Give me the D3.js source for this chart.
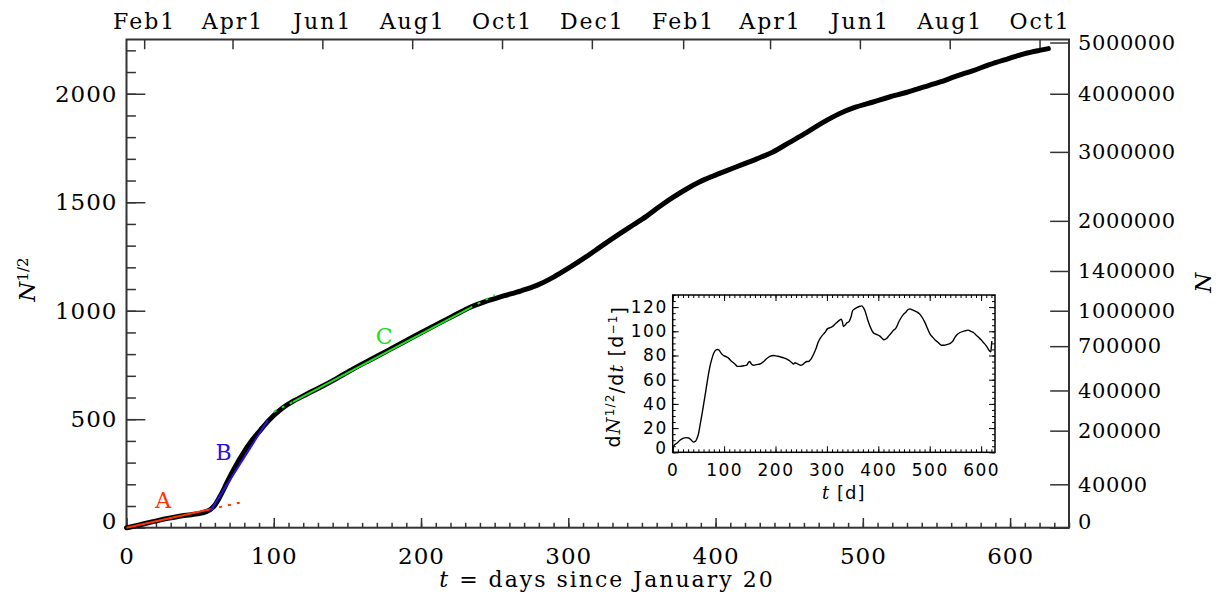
<!DOCTYPE html>
<html>
<head>
<meta charset="utf-8">
<title>N^1/2 versus time</title>
<script src="https://d3js.org/d3.v7.min.js"></script>
<style>
  body { margin: 0; background: #fff; }
  svg { display: block; background: #fff; }
  text { font-family: "DejaVu Serif", serif; fill: #000; }
  .axis path { display: none; }
  .axis line { stroke: #333; stroke-width: 1.5px; }
  .inset text { font-family: "DejaVu Sans", sans-serif; }
  .inset .axis line { stroke: #000; stroke-width: 1px; }
</style>
</head>
<body>
<svg width="1222" height="604"></svg>
<script>
// main curve: sqrt of cumulative cases
const days = [0, 2, 10, 18, 28, 36, 44, 50, 54, 57, 60, 64, 68, 72, 75, 79, 82, 86, 91, 95,
  100, 106, 113, 122, 131, 142, 154, 165, 177, 188, 199, 213, 223, 233, 245, 256, 268, 279,
  290, 301, 312, 323, 335, 344, 353, 362, 371, 380, 389, 398, 408, 418, 428, 439, 450, 462,
  473, 484, 495, 507, 518, 530, 541, 552, 563, 575, 586, 598, 610, 620, 626];
const sqrtN = [0, 2, 15, 28, 43, 53, 60, 66, 74, 84, 104, 150, 205, 258, 295, 340, 372, 410, 450, 482,
  517, 552, 582, 614, 645, 685, 732, 772, 815, 855, 895, 945, 980, 1015, 1045, 1068, 1092, 1118,
  1155, 1200, 1248, 1300, 1355, 1395, 1435, 1480, 1522, 1560, 1593, 1620, 1647, 1673, 1700, 1732, 1775, 1822,
  1868, 1908, 1938, 1962, 1985, 2007, 2030, 2053, 2080, 2107, 2134, 2160, 2185, 2200, 2208];

// inset: growth rate of sqrt(N)
const rateDays = [0, 3, 8, 14, 20, 26, 31, 36, 40, 44, 47, 50, 53, 58, 63, 69, 73, 76, 80, 84, 87, 90, 94, 99,
  104, 108, 115, 121, 126, 131, 138, 144, 147, 150, 153, 157, 163, 170, 177, 183, 190, 196, 203, 209,
  216, 222, 228, 232, 235, 238, 243, 248, 253, 257, 261, 264, 269, 274, 279, 283, 290, 296, 301, 306,
  311, 316, 320, 324, 328, 330, 332, 335, 339, 343, 347, 350, 354, 358, 363, 368, 371, 374, 379, 384,
  390, 396, 403, 408, 411, 416, 420, 426, 430, 433, 436, 439, 444, 449, 454, 458, 462, 465, 470, 475,
  481, 486, 491, 496, 501, 506, 510, 516, 523, 528, 533, 540, 545, 549, 554, 559, 565, 570, 575, 580,
  585, 590, 595, 600, 604, 610, 616, 619, 620, 621];
const rate = [3, 5.8, 7.5, 9.9, 11.5, 12.1, 11.8, 10.2, 8.5, 9, 11.2, 15, 22, 34, 47, 63, 72, 77, 82, 84.5, 85, 84.5, 82, 80,
  79, 78, 75, 73, 71, 71, 71.5, 72, 74, 75, 73, 72, 72.5, 73, 75, 77.5, 79.5, 80, 79.5, 79,
  78, 77, 75.5, 74, 73, 74, 73, 72, 72.5, 74, 75, 75, 77, 81, 86, 91, 96, 99, 102, 103,
  104, 106, 107.5, 109, 110, 108, 104, 105, 107, 108, 112, 117, 118.5, 119.5, 120.5, 121, 119.5, 117, 110, 104,
  99, 97.5, 96, 94, 93, 94, 96, 99, 101, 102, 104, 107, 111, 114, 116, 118, 118.5, 118, 117, 116,
  114, 111, 107, 102, 97.5, 95, 93, 91, 88.5, 88.5, 89, 90, 92, 95, 97.5, 99, 100, 100.5, 101, 100,
  99, 97, 95, 93, 91, 88, 84, 83, 88, 92];

// top axis: calendar months (day offsets from Jan 20, 2020)
const monthLabels = ["Feb1", "Apr1", "Jun1", "Aug1", "Oct1", "Dec1", "Feb1", "Apr1", "Jun1", "Aug1", "Oct1"];
const monthDays = [12, 72, 133, 194, 255, 316, 378, 437, 498, 559, 620];

// right axis: N itself
const nTicks = [0, 40000, 200000, 400000, 700000, 1000000, 1400000, 2000000, 3000000, 4000000, 5000000];

// fitted straight lines A, B, C
const fitNames = ["A", "B", "C"];
const fitColors = ["#ff3300", "#2a10e6", "#22dd22"];
const fitLabelDay = [25, 66, 175];
const fitLabelVal = [127, 350, 885];
const fitSolid = [[[0, 0], [57, 85]], [[57, 78], [96, 496]], [[113, 580], [233, 1012]]];
const fitDashed = [[[[57, 85], [78, 117]]], [], [[[100, 534], [113, 580]], [[233, 1012], [250, 1073]]]];

const margin = { top: 39.5, right: 153, bottom: 76.3, left: 126.5 };
const width = 1222 - margin.left - margin.right;
const height = 604 - margin.top - margin.bottom;

const svg = d3.select("svg")
  .append("g")
  .attr("transform", `translate(${margin.left},${margin.top})`);

const x = d3.scaleLinear().domain([0, 640]).range([0, width]);
const y = d3.scaleLinear().domain([0, 2250]).range([height, 0]);
const yN = d3.scaleSqrt().domain([0, 2250 * 2250]).range([height, 0]);

const xTick = 0.02 * height, yTick = 0.02 * width;

// minor ticks
svg.append("g").attr("class", "axis")
  .attr("transform", `translate(0,${height})`)
  .call(d3.axisBottom(x).tickValues(d3.range(0, 641, 10)).tickFormat("").tickSizeInner(-xTick / 2).tickSizeOuter(0));
svg.append("g").attr("class", "axis")
  .call(d3.axisLeft(y).tickValues(d3.range(0, 2251, 100)).tickFormat("").tickSizeInner(-yTick / 2).tickSizeOuter(0));

// major ticks + labels
const xAxis = svg.append("g").attr("class", "axis")
  .attr("transform", `translate(0,${height})`)
  .call(d3.axisBottom(x).tickValues(d3.range(0, 601, 100)).tickFormat(d3.format("d"))
    .tickSizeInner(-xTick).tickSizeOuter(0).tickPadding(20));
xAxis.selectAll("text").style("font-size", "23px").style("letter-spacing", "1px");

const yAxis = svg.append("g").attr("class", "axis")
  .call(d3.axisLeft(y).tickValues(d3.range(0, 2001, 500)).tickFormat(d3.format("d"))
    .tickSizeInner(-yTick).tickSizeOuter(0).tickPadding(9));
yAxis.selectAll("text").style("font-size", "23px").style("letter-spacing", "1px")
  .attr("dy", d => d === 0 ? "0.05em" : "0.32em");

const topAxis = svg.append("g").attr("class", "axis")
  .call(d3.axisTop(x).tickValues(monthDays).tickFormat((d, i) => monthLabels[i])
    .tickSizeInner(-xTick).tickSizeOuter(0).tickPadding(11));
topAxis.selectAll("text").style("font-size", "22px").style("letter-spacing", "2px");

const rightAxis = svg.append("g").attr("class", "axis")
  .attr("transform", `translate(${width},0)`)
  .call(d3.axisRight(yN).tickValues(nTicks).tickFormat(d3.format("d"))
    .tickSizeInner(-yTick).tickSizeOuter(0).tickPadding(9));
rightAxis.selectAll("text").style("font-size", "21px").style("letter-spacing", "0.6px")
  .attr("dy", d => d === 0 ? "0.05em" : "0.32em");

// frame
svg.append("rect")
  .attr("width", width).attr("height", height)
  .attr("fill", "none").attr("stroke", "#333").attr("stroke-width", 2);

// main curve
const line = d3.line().x(d => x(d[0])).y(d => y(d[1])).curve(d3.curveMonotoneX);
svg.append("path")
  .datum(days.map((d, i) => [d, sqrtN[i]]))
  .attr("d", line)
  .attr("fill", "none").attr("stroke", "#000")
  .attr("stroke-width", 5).attr("stroke-linecap", "round").attr("stroke-linejoin", "round");

// fits
const straight = d3.line().x(d => x(d[0])).y(d => y(d[1]));
fitNames.forEach((name, i) => {
  svg.append("path").attr("d", straight(fitSolid[i]))
    .attr("stroke", fitColors[i]).attr("stroke-width", 2).attr("fill", "none");
  fitDashed[i].forEach(seg => {
    svg.append("path").attr("d", straight(seg))
      .attr("stroke", fitColors[i]).attr("stroke-width", 2).attr("fill", "none")
      .attr("stroke-dasharray", "3,6");
  });
  svg.append("text")
    .attr("x", x(fitLabelDay[i])).attr("y", y(fitLabelVal[i]))
    .attr("dy", "0.36em").attr("text-anchor", "middle")
    .style("font-size", "22px").style("fill", fitColors[i])
    .text(name);
});

// axis titles
const xt = svg.append("text")
  .attr("x", 480.5).attr("y", height + 59)
  .attr("text-anchor", "middle").style("font-size", "22px").style("letter-spacing", "2px");
xt.append("tspan").style("font-style", "italic").text("t");
xt.append("tspan").text(" = days since January 20");

const ylab = svg.append("text")
  .attr("transform", `translate(${-92},${height / 2 - 4}) rotate(-90)`)
  .attr("text-anchor", "middle").style("font-size", "23px");
ylab.append("tspan").style("font-style", "italic").text("N");
ylab.append("tspan").attr("dy", "-0.45em").style("font-size", "15px").text("1/2");

svg.append("text")
  .attr("transform", `translate(${width + 142},${height / 2 - 1}) rotate(-90)`)
  .attr("text-anchor", "middle").style("font-size", "23px").style("font-style", "italic")
  .text("N");

// ---------- inset ----------
const ins = { left: 672.7, top: 295, right: 995, bottom: 452.3 };
const iw = ins.right - ins.left, ih = ins.bottom - ins.top;
const inset = d3.select("svg").append("g")
  .attr("class", "inset")
  .attr("transform", `translate(${ins.left},${ins.top})`);

const xi = d3.scaleLinear().domain([0, 627]).range([0, iw]);
const yi = d3.scaleLinear().domain([0, 130]).range([ih, 0]);

inset.append("rect").attr("width", iw).attr("height", ih).attr("fill", "#fff");

const iMajor = 6, iMinor = 3;
[[d3.axisBottom, `translate(0,${ih})`], [d3.axisTop, null]].forEach(([ax, tr]) => {
  const g1 = inset.append("g").attr("class", "axis");
  if (tr) g1.attr("transform", tr);
  g1.call(ax(xi).tickValues(d3.range(0, 627, 10)).tickFormat("").tickSizeInner(-iMinor).tickSizeOuter(0));
  const g2 = inset.append("g").attr("class", "axis");
  if (tr) g2.attr("transform", tr);
  g2.call(ax(xi).tickValues(d3.range(0, 601, 100)).tickSizeInner(-iMajor).tickSizeOuter(0).tickPadding(12));
  if (ax === d3.axisTop) g2.selectAll("text").remove();
  else g2.selectAll("text").style("font-size", "17px").style("letter-spacing", "1.5px");
});
[[d3.axisLeft, null], [d3.axisRight, `translate(${iw},0)`]].forEach(([ax, tr]) => {
  const g1 = inset.append("g").attr("class", "axis");
  if (tr) g1.attr("transform", tr);
  g1.call(ax(yi).tickValues(d3.range(0, 131, 5)).tickFormat("").tickSizeInner(-iMinor).tickSizeOuter(0));
  const g2 = inset.append("g").attr("class", "axis");
  if (tr) g2.attr("transform", tr);
  g2.call(ax(yi).tickValues(d3.range(0, 121, 20)).tickSizeInner(-iMajor).tickSizeOuter(0).tickPadding(5));
  if (ax === d3.axisRight) g2.selectAll("text").remove();
  else g2.selectAll("text").style("font-size", "17px").style("letter-spacing", "1.5px")
    .attr("dy", d => d === 0 ? "0.05em" : "0.32em");
});

inset.append("rect").attr("width", iw).attr("height", ih)
  .attr("fill", "none").attr("stroke", "#000").attr("stroke-width", 1.5);

inset.append("path")
  .datum(rateDays.map((d, i) => [d, rate[i]]))
  .attr("d", d3.line().x(d => xi(d[0])).y(d => yi(d[1])).curve(d3.curveMonotoneX))
  .attr("fill", "none").attr("stroke", "#000").attr("stroke-width", 1.4);

const ixl = inset.append("text")
  .attr("x", iw / 2 + 10).attr("y", ih + 47)
  .attr("text-anchor", "middle").style("font-size", "18px").style("letter-spacing", "1px");
ixl.append("tspan").style("font-style", "italic").style("font-family", "DejaVu Serif").text("t");
ixl.append("tspan").text(" [d]");

const iyl = inset.append("text")
  .attr("transform", `translate(-53,${ih / 2 + 3}) rotate(-90)`)
  .attr("text-anchor", "middle").style("font-size", "19px").style("letter-spacing", "1.2px");
iyl.append("tspan").text("d");
iyl.append("tspan").style("font-style", "italic").style("font-family", "DejaVu Serif").text("N");
iyl.append("tspan").attr("dy", "-0.45em").style("font-size", "12px").text("1/2");
iyl.append("tspan").attr("dy", "0.45em").text("/d");
iyl.append("tspan").style("font-style", "italic").style("font-family", "DejaVu Serif").text("t");
iyl.append("tspan").text(" [d");
iyl.append("tspan").attr("dy", "-0.45em").style("font-size", "12px").text("−1");
iyl.append("tspan").attr("dy", "0.45em").text("]");
</script>
</body>
</html>
